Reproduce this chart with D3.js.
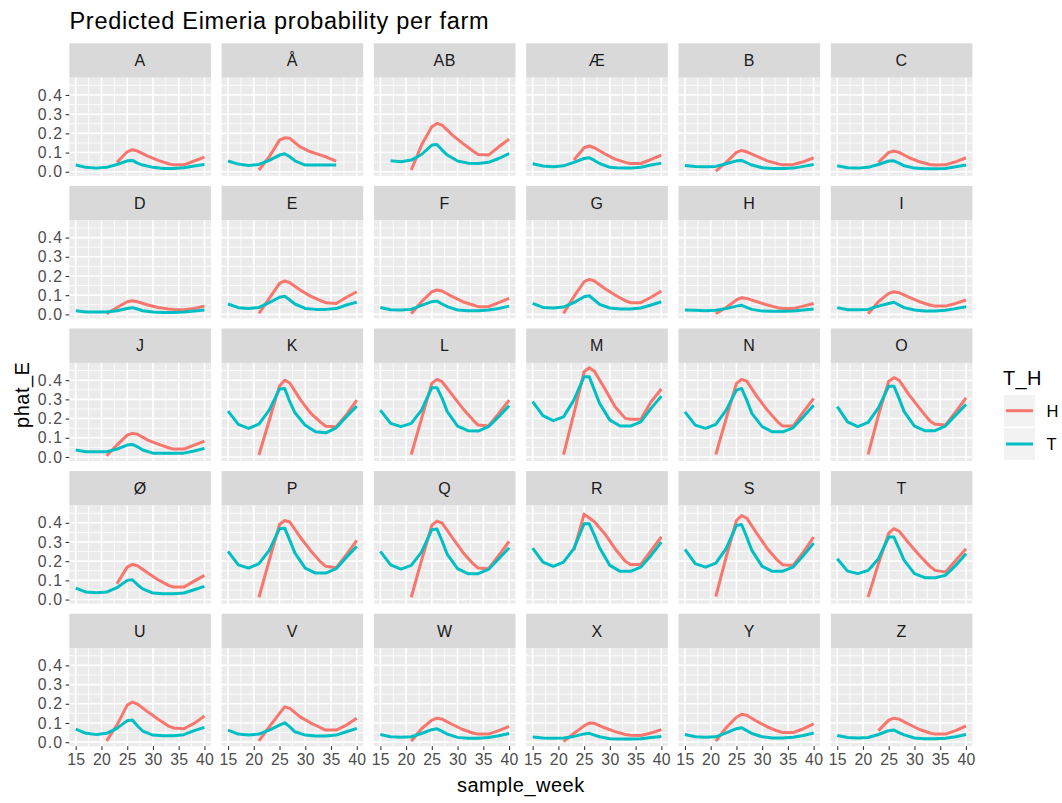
<!DOCTYPE html>
<html>
<head>
<meta charset="utf-8">
<script src="https://cdn.jsdelivr.net/npm/d3@7"></script>
<style>
  html, body { margin: 0; padding: 0; background: #ffffff; }
  svg { display: block; font-family: "Liberation Sans", Arial, sans-serif; }
</style>
</head>
<body>
<svg id="chart" width="1062" height="803"></svg>
<script>
// Farms in facet order
const farms = ["A","Å","AB","Æ","B","C","D","E","F","G","H","I","J","K","L","M","N","O","Ø","P","Q","R","S","T","U","V","W","X","Y","Z"];

// Weeks at which each series is given
const weeksT = [15,17,19,21,23,25,26,27,28,30,32,34,36,38,40];
const weeksH = [21,23,25,26,27,29,31,33,34,36,38,40];

// Predicted probability, T series (one row per farm, null = no value)
const phatT = [
  [.035,.023,.019,.023,.038,.057,.059,.045,.035,.023,.017,.017,.021,.030,.038], // A
  [.056,.040,.033,.038,.059,.087,.094,.078,.057,.035,.035,.035,.035,null,null], // Å
  [null,.057,.052,.061,.090,.139,.142,.113,.087,.056,.045,.043,.049,.069,.095], // AB
  [.042,.030,.026,.031,.049,.069,.073,.059,.043,.023,.019,.019,.024,.035,.045], // Æ
  [.033,.028,.026,.028,.042,.057,.059,.047,.035,.021,.017,.017,.019,.028,.038], // B
  [.031,.021,.019,.023,.038,.056,.057,.045,.031,.019,.016,.016,.017,.026,.035], // C
  [.019,.012,.012,.012,.019,.031,.035,.028,.019,.012,.010,.010,.012,.017,.023], // D
  [.054,.035,.031,.036,.061,.089,.094,.075,.054,.031,.026,.026,.030,.049,.064], // E
  [.036,.024,.023,.026,.047,.066,.069,.054,.040,.023,.019,.019,.023,.031,.043], // F
  [.057,.036,.033,.038,.061,.092,.097,.075,.052,.033,.028,.028,.033,.049,.066], // G
  [.023,.021,.019,.021,.030,.043,.047,.036,.026,.017,.016,.016,.017,.023,.028], // H
  [.035,.024,.024,.026,.043,.057,.063,.049,.035,.023,.017,.017,.021,.030,.040], // I
  [.036,.027,.027,.027,.041,.062,.065,.053,.036,.020,.019,.019,.020,.031,.045], // J
  [.239,.170,.149,.171,.244,.354,.357,.288,.230,.165,.131,.126,.152,.210,.265], // K
  [.244,.175,.158,.175,.244,.361,.361,.305,.236,.161,.137,.135,.158,.210,.267], // L
  [.288,.215,.189,.209,.296,.418,.418,.348,.279,.192,.161,.161,.183,.253,.317], // M
  [.235,.166,.149,.170,.244,.348,.357,.296,.227,.158,.131,.131,.152,.209,.270], // N
  [.262,.183,.158,.180,.256,.369,.369,.305,.236,.161,.137,.137,.161,.218,.274], // O
  [.060,.039,.036,.039,.062,.100,.103,.077,.056,.034,.030,.030,.034,.051,.069], // Ø
  [.251,.181,.164,.187,.256,.369,.372,.308,.242,.164,.138,.138,.161,.221,.277], // P
  [.251,.181,.159,.178,.247,.364,.367,.305,.235,.161,.135,.135,.157,.213,.270], // Q
  [.268,.195,.173,.195,.265,.395,.395,.334,.270,.178,.147,.147,.169,.230,.299], // R
  [.261,.187,.169,.190,.265,.386,.391,.326,.256,.173,.147,.148,.169,.230,.294], // S
  [.213,.148,.135,.152,.213,.326,.326,.265,.204,.135,.114,.114,.126,.178,.239], // T
  [.068,.046,.040,.046,.072,.112,.115,.084,.058,.037,.034,.034,.039,.060,.077], // U
  [.063,.042,.037,.042,.063,.089,.101,.080,.054,.037,.032,.032,.037,.054,.072], // V
  [.040,.028,.025,.028,.045,.065,.070,.056,.042,.025,.020,.020,.024,.033,.045], // W
  [.027,.022,.020,.022,.030,.043,.046,.037,.028,.018,.016,.016,.018,.024,.030], // X
  [.040,.028,.026,.028,.048,.070,.075,.060,.045,.028,.022,.022,.026,.035,.048], // Y
  [.035,.024,.022,.024,.040,.060,.063,.050,.038,.022,.018,.018,.020,.028,.040]  // Z
];

// Predicted probability, H series (one row per farm, null = no value)
const phatH = [
  [null,.049,.104,.115,.108,.082,.059,.042,.036,.036,.056,.076], // A
  [.009,.078,.165,.177,.174,.130,.104,.087,.078,.056,null,null], // Å
  [.009,.139,.234,.252,.243,.191,.148,.108,.090,.087,.130,.170], // AB
  [null,.061,.125,.134,.125,.094,.066,.049,.043,.043,.064,.087], // Æ
  [.003,.049,.101,.111,.104,.080,.057,.042,.036,.038,.052,.073], // B
  [null,.049,.101,.108,.101,.073,.052,.038,.035,.036,.052,.073], // C
  [.003,.036,.066,.071,.066,.049,.036,.028,.026,.024,.031,.043], // D
  [.005,.083,.161,.174,.165,.127,.095,.071,.061,.057,.089,.118], // E
  [.003,.066,.118,.127,.122,.092,.066,.049,.040,.040,.061,.083], // F
  [.005,.092,.170,.182,.174,.135,.101,.071,.061,.061,.089,.122], // G
  [.003,.036,.075,.087,.083,.066,.049,.035,.031,.030,.043,.057], // H
  [.003,.066,.109,.118,.113,.089,.066,.049,.043,.043,.057,.075], // I
  [.006,.062,.114,.123,.118,.088,.067,.048,.041,.041,.062,.083], // J
  [.010,.190,.370,.400,.385,.300,.230,.180,.160,.157,.220,.296], // K
  [.012,.200,.383,.404,.392,.322,.253,.192,.166,.161,.227,.296], // L
  [.012,.225,.444,.465,.447,.357,.262,.201,.197,.197,.288,.354], // M
  [.013,.200,.383,.404,.395,.314,.244,.183,.161,.161,.235,.305], // N
  [.013,.218,.395,.413,.400,.322,.253,.187,.170,.166,.235,.308], // O
  [null,.082,.169,.183,.176,.138,.103,.074,.065,.065,.096,.126], // Ø
  [.012,.204,.391,.412,.404,.326,.256,.195,.173,.166,.234,.308], // P
  [.012,.204,.386,.409,.398,.322,.247,.187,.164,.161,.230,.303], // Q
  [null,.256,.445,.425,.405,.343,.265,.200,.183,.183,.255,.326], // R
  [.016,.221,.412,.438,.424,.343,.265,.204,.181,.178,.247,.326], // S
  [.013,.187,.346,.369,.357,.291,.230,.173,.152,.143,.204,.265], // T
  [.007,.089,.193,.209,.198,.158,.119,.084,.074,.070,.098,.136], // U
  [.007,.080,.150,.184,.176,.132,.101,.075,.063,.063,.089,.124], // V
  [.005,.070,.115,.125,.120,.092,.066,.048,.042,.042,.060,.082], // W
  [.003,.045,.085,.100,.098,.075,.055,.040,.036,.035,.048,.065], // X
  [.005,.075,.130,.145,.140,.108,.080,.058,.050,.050,.070,.095], // Y
  [null,.060,.115,.125,.120,.092,.066,.048,.042,.042,.060,.085]  // Z
];

// Axis ticks
const xTicks = [15,20,25,30,35,40];
const xMinor = [17.5,22.5,27.5,32.5,37.5];
const yTicks = [0,0.1,0.2,0.3,0.4];
const yMinor = [0.05,0.15,0.25,0.35,0.45];

// Legend entries
const seriesKeys = ["H","T"];
const seriesColors = ["#F8766D","#00BFC4"];

// ---- layout ----
const nCols = 6;
const panelLeft = 69.3, panelW = 141.6, colPitch = 152.3;
const stripTop = 43.3, stripH = 34.4, panelH = 98.1, rowPitch = 142.6;

const svg = d3.select("#chart");
const color = d3.scaleOrdinal().domain(seriesKeys).range(seriesColors);

const x = d3.scaleLinear().domain([13.75, 41.25]).range([0, panelW]);
const y = d3.scaleLinear().domain([-0.021, 0.490]).range([panelH, 0]);

const line = d3.line()
  .defined(d => d.v != null)
  .x(d => x(d.w))
  .y(d => y(d.v));

const nRows = Math.ceil(farms.length / nCols);

farms.forEach((farm, i) => {
  const col = i % nCols, row = Math.floor(i / nCols);
  const gx = panelLeft + col * colPitch;
  const gy = stripTop + row * rowPitch;
  const g = svg.append("g").attr("transform", `translate(${gx},${gy})`);

  // strip
  g.append("rect").attr("width", panelW).attr("height", stripH).attr("fill", "#D9D9D9");
  g.append("text")
    .attr("x", panelW / 2).attr("y", stripH / 2 + 5.7)
    .attr("text-anchor", "middle")
    .attr("font-size", 16).attr("letter-spacing", 0.4).attr("fill", "#1A1A1A")
    .text(farm);

  const p = g.append("g").attr("transform", `translate(0,${stripH})`);
  p.append("rect").attr("width", panelW).attr("height", panelH).attr("fill", "#EBEBEB");

  // grid
  p.selectAll(".gxm").data(xMinor).join("line")
    .attr("x1", d => x(d)).attr("x2", d => x(d)).attr("y1", 0).attr("y2", panelH)
    .attr("stroke", "#fff").attr("stroke-width", 0.8);
  p.selectAll(".gym").data(yMinor).join("line")
    .attr("y1", d => y(d)).attr("y2", d => y(d)).attr("x1", 0).attr("x2", panelW)
    .attr("stroke", "#fff").attr("stroke-width", 0.8);
  p.selectAll(".gx").data(xTicks).join("line")
    .attr("x1", d => x(d)).attr("x2", d => x(d)).attr("y1", 0).attr("y2", panelH)
    .attr("stroke", "#fff").attr("stroke-width", 1.6);
  p.selectAll(".gy").data(yTicks).join("line")
    .attr("y1", d => y(d)).attr("y2", d => y(d)).attr("x1", 0).attr("x2", panelW)
    .attr("stroke", "#fff").attr("stroke-width", 1.6);

  // series
  const tData = weeksT.map((w, k) => ({ w, v: phatT[i][k] }));
  const hData = weeksH.map((w, k) => ({ w, v: phatH[i][k] }));
  [["H", hData], ["T", tData]].forEach(([key, data]) => {
    p.append("path").datum(data)
      .attr("d", line)
      .attr("fill", "none")
      .attr("stroke", color(key))
      .attr("stroke-width", 3)
      .attr("stroke-linejoin", "round")
      .attr("stroke-linecap", "butt");
  });

  // y axis on the first column
  if (col === 0) {
    const ay = p.append("g").call(d3.axisLeft(y).tickValues(yTicks).tickFormat(d3.format(".1f")).tickSize(3.7).tickPadding(2.5));
    ay.select(".domain").remove();
    ay.selectAll(".tick line").attr("stroke", "#333333").attr("stroke-width", 1.1);
    ay.selectAll(".tick text").attr("fill", "#4D4D4D").attr("font-size", 15.8)
      .attr("letter-spacing", 1.1).attr("font-family", null);
  }
  // x axis on the last row
  if (row === nRows - 1) {
    const ax = p.append("g").attr("transform", `translate(0,${panelH})`)
      .call(d3.axisBottom(x).tickValues(xTicks).tickFormat(d3.format("d")).tickSize(3.7).tickPadding(4));
    ax.select(".domain").remove();
    ax.selectAll(".tick line").attr("stroke", "#333333").attr("stroke-width", 1.1);
    ax.selectAll(".tick text").attr("fill", "#4D4D4D").attr("font-size", 15.8)
      .attr("letter-spacing", 0.3).attr("font-family", null);
  }
});

// titles
svg.append("text").attr("x", 69.5).attr("y", 28.5)
  .attr("font-size", 23.5).attr("letter-spacing", 0.7).attr("fill", "#000")
  .text("Predicted Eimeria probability per farm");

const plotCenterX = panelLeft + ((nCols - 1) * colPitch + panelW) / 2;
const plotBottom = stripTop + (nRows - 1) * rowPitch + stripH + panelH;
svg.append("text").attr("x", plotCenterX).attr("y", 792)
  .attr("text-anchor", "middle").attr("font-size", 20).attr("letter-spacing", 0.5)
  .attr("fill", "#000").text("sample_week");

const plotCenterY = (stripTop + plotBottom) / 2;
svg.append("text")
  .attr("transform", `translate(29,${plotCenterY}) rotate(-90)`)
  .attr("text-anchor", "middle").attr("font-size", 20).attr("letter-spacing", 0.5)
  .attr("fill", "#000").text("phat_E");

// legend
const lg = svg.append("g").attr("transform", "translate(1003,0)");
lg.append("text").attr("x", 0).attr("y", 384.5).attr("font-size", 20).attr("letter-spacing", 0.3)
  .attr("fill", "#000").text("T_H");
seriesKeys.forEach((k, j) => {
  const ky = 395 + j * 33.3;
  lg.append("rect").attr("x", 1).attr("y", ky).attr("width", 31).attr("height", 31.5).attr("fill", "#F2F2F2");
  lg.append("line").attr("x1", 3).attr("x2", 30).attr("y1", ky + 15.7).attr("y2", ky + 15.7)
    .attr("stroke", color(k)).attr("stroke-width", 3);
  lg.append("text").attr("x", 43.5).attr("y", ky + 22).attr("font-size", 16.5).attr("fill", "#000").text(k);
});
</script>
</body>
</html>
